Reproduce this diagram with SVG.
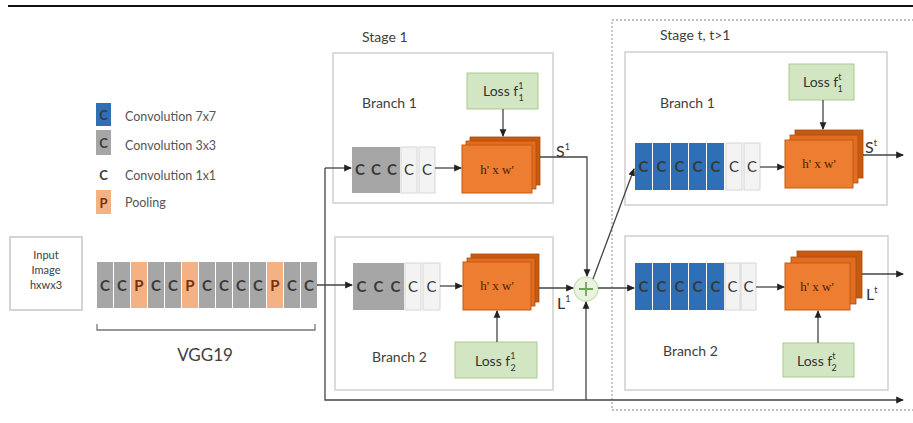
<svg xmlns="http://www.w3.org/2000/svg" width="913" height="423" viewBox="0 0 913 423">
  <defs>
    <marker id="arr" viewBox="0 0 8 8" refX="7" refY="4" markerWidth="6" markerHeight="6" orient="auto">
      <path d="M0,0.5 L8,4 L0,7.5 Z" fill="#222"/>
    </marker>
    <style>
      text { font-family: Lato, "Open Sans", "Liberation Sans", sans-serif; fill: #404040; }
      .lbl { font-size: 14px; }
      .leg { font-size: 12.5px; fill: #555; }
      .cl { font-size: 15px; font-weight: bold; fill: #3a3a3a; text-anchor: middle; }
      .pl { font-size: 15px; font-weight: bold; fill: #7a3208; text-anchor: middle; }
      .gray { fill: #a6a6a6; }
      .blue { fill: #2e6fb5; }
      .pool { fill: #f4b183; }
      .white { fill: #f3f3f3; stroke: #d6d6d6; stroke-width: 1; }
      .box { fill: #fff; stroke: #cfcfcf; stroke-width: 1.5; }
      .loss { fill: #d3e6c4; stroke: #a9c98e; stroke-width: 1; }
      .ob { fill: #c55a11; stroke: #a84a0c; stroke-width: 0.8; }
      .om { fill: #e26c20; stroke: #b04e0e; stroke-width: 0.8; }
      .of { fill: #ed7d31; stroke: #c55a11; stroke-width: 1; }
      .hw { font-family: "Liberation Serif", "DejaVu Serif", serif; font-size: 13px; fill: #4a1f04; text-anchor: middle; }
      .con { fill: none; stroke: #444; stroke-width: 1.3; }
      .sym { font-size: 14px; fill: #333; }
      .big { font-size: 16px; fill: #333; }
      .sup { font-size: 9px; }
    </style>
  </defs>

  <!-- top rule -->
  <line x1="8" y1="6" x2="913" y2="6" stroke="#111" stroke-width="2"/>

  <!-- legend -->
  <g id="legend">
    <rect x="96" y="103" width="15" height="23" class="blue"/>
    <text x="103.5" y="120" class="cl" style="font-size:13px">C</text>
    <text x="125" y="121" class="leg">Convolution 7x7</text>
    <rect x="96" y="130" width="15" height="25" class="gray"/>
    <text x="103.5" y="148" class="cl" style="font-size:13px">C</text>
    <text x="125" y="150" class="leg">Convolution 3x3</text>
    <text x="103.5" y="180" class="cl" style="font-size:13px">C</text>
    <text x="125" y="180" class="leg">Convolution 1x1</text>
    <rect x="96" y="190" width="15" height="24" class="pool"/>
    <text x="103.5" y="208" class="pl" style="font-size:13px">P</text>
    <text x="125" y="207" class="leg">Pooling</text>
  </g>

  <!-- input image -->
  <g id="input">
    <rect x="10" y="237" width="72" height="73" fill="#fff" stroke="#d4d4d4" stroke-width="2"/>
    <text x="46" y="259" font-size="11" text-anchor="middle">Input</text>
    <text x="46" y="274" font-size="11" text-anchor="middle">Image</text>
    <text x="46" y="289" font-size="11" text-anchor="middle">hxwx3</text>
  </g>

  <!-- VGG19 front end -->
  <g id="vgg19">
    <rect x="97" y="262" width="16" height="46" class="gray"/><text x="105" y="291" class="cl">C</text>
    <rect x="114" y="262" width="16" height="46" class="gray"/><text x="122" y="291" class="cl">C</text>
    <rect x="131" y="262" width="16" height="46" class="pool"/><text x="139" y="291" class="pl">P</text>
    <rect x="148" y="262" width="16" height="46" class="gray"/><text x="156" y="291" class="cl">C</text>
    <rect x="165" y="262" width="16" height="46" class="gray"/><text x="173" y="291" class="cl">C</text>
    <rect x="182" y="262" width="16" height="46" class="pool"/><text x="190" y="291" class="pl">P</text>
    <rect x="199" y="262" width="16" height="46" class="gray"/><text x="207" y="291" class="cl">C</text>
    <rect x="216" y="262" width="16" height="46" class="gray"/><text x="224" y="291" class="cl">C</text>
    <rect x="233" y="262" width="16" height="46" class="gray"/><text x="241" y="291" class="cl">C</text>
    <rect x="250" y="262" width="16" height="46" class="gray"/><text x="258" y="291" class="cl">C</text>
    <rect x="267" y="262" width="16" height="46" class="pool"/><text x="275" y="291" class="pl">P</text>
    <rect x="284" y="262" width="16" height="46" class="gray"/><text x="292" y="291" class="cl">C</text>
    <rect x="301" y="262" width="16" height="46" class="gray"/><text x="309" y="291" class="cl">C</text>
    <path d="M97,324 V330 H315 V324" fill="none" stroke="#777" stroke-width="1.3"/>
    <text x="205" y="361" font-size="17" text-anchor="middle" fill="#333">VGG19</text>
  </g>

  <!-- stage 1 -->
  <text x="362" y="42" class="lbl">Stage 1</text>

  <g id="s1-branch1">
    <rect x="333" y="53" width="220" height="150" class="box"/>
    <text x="362" y="108" class="lbl">Branch 1</text>
    <rect x="352" y="147" width="16" height="46" class="gray"/><text x="360" y="175" class="cl">C</text>
    <rect x="368" y="147" width="16" height="46" class="gray"/><text x="376" y="175" class="cl">C</text>
    <rect x="384" y="147" width="16" height="46" class="gray"/><text x="392" y="175" class="cl">C</text>
    <rect x="401" y="147" width="16" height="46" class="white"/><text x="409" y="175" class="cl" style="font-weight:normal">C</text>
    <rect x="419" y="147" width="16" height="46" class="white"/><text x="427" y="175" class="cl" style="font-weight:normal">C</text>
    <rect x="470" y="137" width="70" height="48" class="ob"/>
    <rect x="466" y="141" width="70" height="48" class="om"/>
    <rect x="462" y="145" width="70" height="48" class="of"/>
    <text x="497" y="174" class="hw">h' x w'</text>
    <rect x="467" y="73" width="71" height="36" class="loss"/>
    <text x="483" y="96" class="sym">Loss f<tspan dy="-7" class="sup">1</tspan><tspan dx="-5" dy="12" class="sup">1</tspan></text>
  </g>

  <g id="s1-branch2">
    <rect x="335" y="237" width="218" height="153" class="box"/>
    <text x="372" y="362" class="lbl">Branch 2</text>
    <rect x="353" y="263" width="17" height="47" class="gray"/><text x="361.5" y="292" class="cl">C</text>
    <rect x="370" y="263" width="17" height="47" class="gray"/><text x="378.5" y="292" class="cl">C</text>
    <rect x="387" y="263" width="17" height="47" class="gray"/><text x="395.5" y="292" class="cl">C</text>
    <rect x="405" y="263" width="16" height="47" class="white"/><text x="413" y="292" class="cl" style="font-weight:normal">C</text>
    <rect x="423" y="263" width="17" height="47" class="white"/><text x="431.5" y="292" class="cl" style="font-weight:normal">C</text>
    <rect x="471" y="254" width="68" height="48" class="ob"/>
    <rect x="467" y="258" width="68" height="48" class="om"/>
    <rect x="463" y="262" width="68" height="48" class="of"/>
    <text x="497" y="290" class="hw">h' x w'</text>
    <rect x="455" y="342" width="82" height="36" class="loss"/>
    <text x="475" y="366" class="sym">Loss f<tspan dy="-7" class="sup">1</tspan><tspan dx="-5" dy="12" class="sup">2</tspan></text>
  </g>

  <!-- stage t -->
  <g id="stage-t">
    <rect x="612" y="20" width="310" height="390" fill="none" stroke="#aaa" stroke-width="1.3" stroke-dasharray="2 2"/>
    <text x="660" y="40" class="lbl">Stage t, t&gt;1</text>
  </g>

  <g id="st-branch1">
    <rect x="625" y="52" width="262" height="153" class="box"/>
    <text x="660" y="108" class="lbl">Branch 1</text>
    <rect x="635" y="143" width="17" height="47" class="blue"/><text x="643.5" y="172" class="cl">C</text>
    <rect x="653" y="143" width="17" height="47" class="blue"/><text x="661.5" y="172" class="cl">C</text>
    <rect x="671" y="143" width="17" height="47" class="blue"/><text x="679.5" y="172" class="cl">C</text>
    <rect x="689" y="143" width="17" height="47" class="blue"/><text x="697.5" y="172" class="cl">C</text>
    <rect x="707" y="143" width="17" height="47" class="blue"/><text x="715.5" y="172" class="cl">C</text>
    <rect x="726" y="143" width="16" height="47" class="white"/><text x="734" y="172" class="cl" style="font-weight:normal">C</text>
    <rect x="744" y="143" width="16" height="47" class="white"/><text x="752" y="172" class="cl" style="font-weight:normal">C</text>
    <rect x="795" y="130" width="68" height="48" class="ob"/>
    <rect x="790" y="135" width="68" height="48" class="om"/>
    <rect x="785" y="140" width="68" height="48" class="of"/>
    <text x="819" y="168" class="hw">h' x w'</text>
    <rect x="789" y="64" width="65" height="36" class="loss"/>
    <text x="803" y="87" class="sym">Loss f<tspan dy="-7" class="sup">t</tspan><tspan dx="-4" dy="12" class="sup">1</tspan></text>
  </g>

  <g id="st-branch2">
    <rect x="625" y="236" width="263" height="154" class="box"/>
    <text x="663" y="356" class="lbl">Branch 2</text>
    <rect x="635" y="263" width="17" height="47" class="blue"/><text x="643.5" y="292" class="cl">C</text>
    <rect x="653" y="263" width="17" height="47" class="blue"/><text x="661.5" y="292" class="cl">C</text>
    <rect x="671" y="263" width="17" height="47" class="blue"/><text x="679.5" y="292" class="cl">C</text>
    <rect x="689" y="263" width="17" height="47" class="blue"/><text x="697.5" y="292" class="cl">C</text>
    <rect x="707" y="263" width="17" height="47" class="blue"/><text x="715.5" y="292" class="cl">C</text>
    <rect x="725" y="263" width="15" height="47" class="white"/><text x="732.5" y="292" class="cl" style="font-weight:normal">C</text>
    <rect x="741" y="263" width="15" height="47" class="white"/><text x="748.5" y="292" class="cl" style="font-weight:normal">C</text>
    <rect x="797" y="251" width="65" height="47" class="ob"/>
    <rect x="791" y="257" width="65" height="47" class="om"/>
    <rect x="785" y="263" width="65" height="47" class="of"/>
    <text x="817" y="291" class="hw">h' x w'</text>
    <rect x="783" y="343" width="71" height="34" class="loss"/>
    <text x="797" y="366" class="sym">Loss f<tspan dy="-7" class="sup">t</tspan><tspan dx="-4" dy="12" class="sup">2</tspan></text>
  </g>

  <!-- sum node -->
  <g id="sum">
    <circle cx="586" cy="289" r="12" fill="#e9f3df" stroke="#c9e0b4" stroke-width="1.2"/>
    <path d="M586,282 V296 M579,289 H593" stroke="#6aa84f" stroke-width="1.8"/>
  </g>

  <!-- connectors -->
  <g id="connectors">
    <path d="M317,285 H352" class="con" marker-end="url(#arr)"/>
    <path d="M325,168 V400 H903" class="con" marker-end="url(#arr)"/>
    <path d="M325,168 H351" class="con" marker-end="url(#arr)"/>
    <path d="M435,168 H461" class="con" marker-end="url(#arr)"/>
    <path d="M440,286 H462" class="con" marker-end="url(#arr)"/>
    <path d="M503,109 V136" class="con" marker-end="url(#arr)"/>
    <path d="M497,342 V311" class="con" marker-end="url(#arr)"/>
    <path d="M540,157 H587 V276" class="con" marker-end="url(#arr)"/>
    <path d="M539,288 H573" class="con" marker-end="url(#arr)"/>
    <path d="M586,400 V302" class="con" marker-end="url(#arr)"/>
    <path d="M598,288 H634" class="con" marker-end="url(#arr)"/>
    <path d="M593,279 L634,169" class="con" marker-end="url(#arr)"/>
    <path d="M760,167 H784" class="con" marker-end="url(#arr)"/>
    <path d="M756,287 H784" class="con" marker-end="url(#arr)"/>
    <path d="M823,100 V129" class="con" marker-end="url(#arr)"/>
    <path d="M818,343 V311" class="con" marker-end="url(#arr)"/>
    <path d="M863,155 H903" class="con" marker-end="url(#arr)"/>
    <path d="M862,274 H903" class="con" marker-end="url(#arr)"/>
    <text x="556" y="157" class="big">S<tspan dy="-7" class="sup">1</tspan></text>
    <text x="557" y="309" class="big">L<tspan dy="-7" class="sup">1</tspan></text>
    <text x="865" y="153" class="big">S<tspan dy="-7" class="sup">t</tspan></text>
    <text x="866" y="300" class="big">L<tspan dy="-7" class="sup">t</tspan></text>
  </g>
</svg>
